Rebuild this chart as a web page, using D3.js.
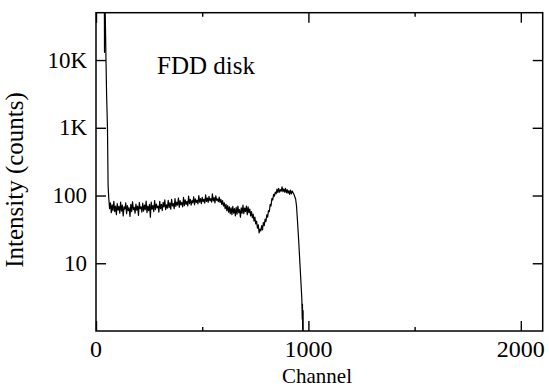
<!DOCTYPE html>
<html><head><meta charset="utf-8"><script src="https://cdn.jsdelivr.net/npm/d3@7"></script></head>
<body style="margin:0">
<div id="c"></div>
<script>
// Spectrum: head peak, flat plateau, dip, edge, fall-off
const headChannels = [39, 40, 41, 42, 44, 47, 50, 54, 57];
const headCounts = [300000, 13000, 300000, 80000, 40000, 10000, 3000, 1000, 140];

// plateau sampled every 4 channels from 60 to 944
const bodyStart = 60;
const bodyStep = 4;
const bodyCounts = [
  92, 64, 78, 56, 73, 60, 82, 58, 70, 52,
  76, 61, 69, 55, 80, 59, 72, 50, 68, 63,
  78, 54, 71, 60, 66, 49, 74, 58, 81, 62,
  67, 55, 75, 61, 70, 51, 79, 64, 68, 57,
  77, 59, 72, 62, 83, 56, 70, 60, 74, 48,
  80, 63, 71, 58, 84, 62, 75, 66, 70, 57,
  82, 64, 74, 60, 79, 68, 86, 62, 73, 65,
  85, 66, 78, 63, 88, 70, 76, 64, 90, 69,
  80, 72, 92, 67, 84, 73, 79, 68, 94, 71,
  86, 74, 82, 70, 98, 76, 88, 72, 84, 78,
  96, 73, 89, 79, 85, 75, 100, 80, 90, 76,
  94, 81, 88, 77, 102, 82, 92, 79, 97, 84,
  90, 80, 106, 83, 93, 78, 99, 85, 89, 81,
  95, 79, 88, 74, 84, 70, 78, 64, 74, 60,
  71, 57, 68, 54, 66, 52, 69, 55, 64, 50,
  67, 53, 70, 56, 62, 48, 66, 55, 72, 54,
  65, 58, 70, 52, 68, 56, 63, 50, 58, 47,
  53, 42, 48, 38, 42, 33, 37, 28, 32, 30,
  36, 31, 40, 36, 45, 41, 52, 48, 60, 58,
  74, 70, 90, 86, 104, 98, 112, 106, 124, 110,
  128, 112, 122, 116, 134, 114, 125, 112, 128, 110,
  122, 108, 118, 104, 120, 106, 116, 110, 104, 96,
  88, 70
];

const tailChannels = [948, 954, 960, 966, 969, 971, 972, 973, 975, 976, 978, 980];
const tailCounts = [45, 22, 10, 4.5, 3, 1.5, 2.5, 1, 2, 0.4, 1, 0.2];

const xMajor = [0, 1000, 2000];
const xMinor = [500, 1500];
const yTicks = [10, 100, 1000, 10000];
const yTickLabels = ['10', '100', '1K', '10K'];

function buildSeries() {
  const pts = [];
  headChannels.forEach((c, i) => pts.push({ ch: c, v: headCounts[i] }));
  bodyCounts.forEach((v, i) => pts.push({ ch: bodyStart + i * bodyStep, v: v }));
  tailChannels.forEach((c, i) => pts.push({ ch: c, v: tailCounts[i] }));
  return pts;
}

const width = 549, height = 387;
const margin = { top: 12.7, right: 6.3, bottom: 56, left: 96 };
const w = width - margin.left - margin.right;
const h = height - margin.top - margin.bottom;

const svg = d3.select('#c').append('svg').attr('width', width).attr('height', height);

const x = d3.scaleLinear().domain([0, 2103]).range([margin.left, margin.left + w]);
const y = d3.scaleLog().domain([1, 50000]).range([margin.top + h, margin.top]);

svg.append('clipPath').attr('id', 'plotclip')
  .append('rect').attr('x', margin.left).attr('y', margin.top).attr('width', w).attr('height', h);

// data line
svg.append('path')
  .datum(buildSeries())
  .attr('clip-path', 'url(#plotclip)')
  .attr('d', d3.line().x(d => x(d.ch)).y(d => y(d.v)))
  .attr('fill', 'none')
  .attr('stroke', '#000')
  .attr('stroke-width', 1.2)
  .attr('stroke-linejoin', 'round');

// tick marks only (labels drawn as plain texts below)
function ticks(axis, tx, ty) {
  svg.append('g').attr('transform', `translate(${tx}, ${ty})`).call(axis.tickFormat(''));
}
ticks(d3.axisBottom(x).tickValues(xMajor).tickSize(-10), 0, margin.top + h);
ticks(d3.axisBottom(x).tickValues(xMinor).tickSize(-4), 0, margin.top + h);
ticks(d3.axisTop(x).tickValues(xMajor).tickSize(-10), 0, margin.top);
ticks(d3.axisTop(x).tickValues(xMinor).tickSize(-4), 0, margin.top);
ticks(d3.axisLeft(y).tickValues(yTicks).tickSize(-10), margin.left, 0);
ticks(d3.axisRight(y).tickValues(yTicks).tickSize(-10), margin.left + w, 0);
svg.selectAll('.domain').remove();
svg.selectAll('.tick line').attr('stroke', '#000').attr('stroke-width', 1.4);

// frame
svg.append('rect')
  .attr('x', margin.left).attr('y', margin.top)
  .attr('width', w).attr('height', h)
  .attr('fill', 'none').attr('stroke', '#000').attr('stroke-width', 1.5);

xMajor.forEach(v => {
  svg.append('text').attr('x', x(v)).attr('y', 357).attr('text-anchor', 'middle')
    .attr('font-family', 'Times New Roman').attr('font-size', 24).text(String(v));
});
yTicks.forEach((v, i) => {
  svg.append('text').attr('x', 87).attr('y', y(v) + 7.5).attr('text-anchor', 'end')
    .attr('font-family', 'Times New Roman').attr('font-size', 23).text(yTickLabels[i]);
});

svg.append('text').attr('x', 157).attr('y', 73.5)
  .attr('font-family', 'Times New Roman').attr('font-size', 25).text('FDD disk');

svg.append('text').attr('x', 317).attr('y', 383).attr('text-anchor', 'middle')
  .attr('font-family', 'Times New Roman').attr('font-size', 21).text('Channel');

svg.append('text').attr('transform', 'translate(23, 180) rotate(-90)').attr('text-anchor', 'middle')
  .attr('font-family', 'Times New Roman').attr('font-size', 25).text('Intensity (counts)');
</script></body></html>
